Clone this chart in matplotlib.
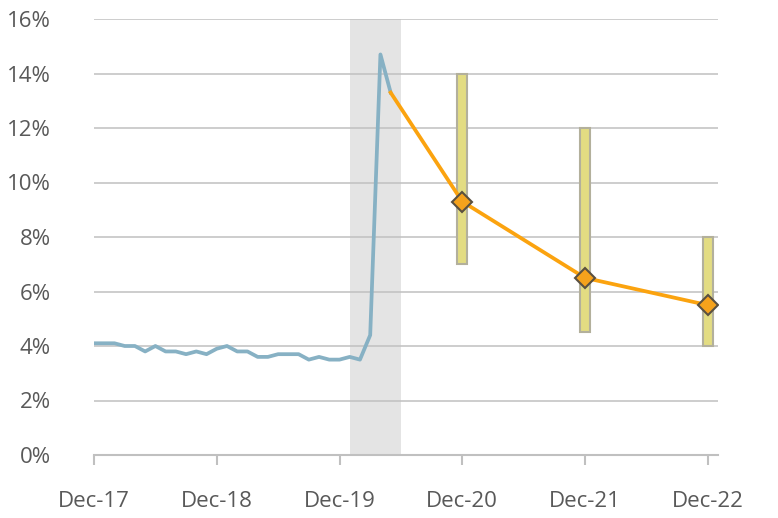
import matplotlib
matplotlib.use("Agg")
import matplotlib.pyplot as plt

# Monthly index: Dec-17 = 0
hist_months = list(range(0, 30))
hist_rate = [4.1, 4.1, 4.1, 4.0, 4.0, 3.8, 4.0, 3.8, 3.8, 3.7, 3.8, 3.7,
             3.9, 4.0, 3.8, 3.8, 3.6, 3.6, 3.7, 3.7, 3.7, 3.5, 3.6, 3.5,
             3.5, 3.6, 3.5, 4.4, 14.7, 13.3]

proj_months = [29, 36, 48, 60]
proj_rate = [13.3, 9.3, 6.5, 5.5]

range_months = [36, 48, 60]
range_low = [7.0, 4.5, 4.0]
range_high = [14.0, 12.0, 8.0]

shade_start, shade_end = 25, 30

tick_pos = [0, 12, 24, 36, 48, 60]
tick_labels = ["Dec-17", "Dec-18", "Dec-19", "Dec-20", "Dec-21", "Dec-22"]
y_ticks = [0, 2, 4, 6, 8, 10, 12, 14, 16]

plt.rcParams['font.family'] = ['Open Sans', 'DejaVu Sans']

fig = plt.figure(figsize=(7.78, 5.18), dpi=100)
ax = fig.add_axes([94/778, 1-455/518, (718-94)/778, (455-19)/518])

ax.axvspan(shade_start, shade_end, color="#e4e4e4", zorder=0, lw=0)

for y in y_ticks[1:]:
    ax.axhline(y, color="#c0c0c0", lw=1.1, zorder=1)

heights = [h - l for l, h in zip(range_low, range_high)]
ax.bar(range_months, heights, bottom=range_low, width=1.0,
       color="#e3dc82", edgecolor="#b3b09c", linewidth=1.5, zorder=2)

ax.plot(hist_months, hist_rate, color="#87b1c4", lw=2.7, zorder=3,
        solid_joinstyle="round")
ax.plot(proj_months, proj_rate, color="#fba30f", lw=2.7, zorder=4)
ax.plot(proj_months[1:], proj_rate[1:], linestyle="none", marker="D",
        markersize=10.5, markerfacecolor="#f5a21c", markeredgecolor="#5a5040",
        markeredgewidth=1.5, zorder=5)

ax.set_xlim(0, 61)
ax.set_ylim(0, 16)
ax.set_xticks(tick_pos)
ax.set_xticklabels(tick_labels)
ax.set_yticks(y_ticks)
ax.set_yticklabels([f"{v}%" for v in y_ticks])

for s in ["top", "right", "left"]:
    ax.spines[s].set_visible(False)
ax.spines["bottom"].set_color("#c0c0c0")
ax.spines["bottom"].set_linewidth(1.5)

ax.tick_params(axis="x", direction="out", length=7, width=1.5, color="#c0c0c0",
               labelsize=16, labelcolor="#595959", pad=19)
ax.tick_params(axis="y", length=0, labelsize=16, labelcolor="#595959", pad=31)

fig.savefig("out.png", dpi=100)
